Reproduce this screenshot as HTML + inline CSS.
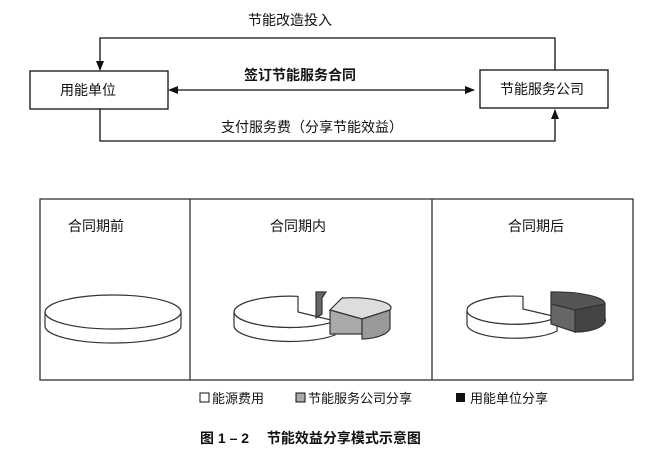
<!DOCTYPE html>
<html><head><meta charset="utf-8"><style>
body{margin:0;background:#fff;width:667px;height:457px;overflow:hidden}
text{font-family:"Liberation Sans","Noto Sans CJK SC",sans-serif;fill:#111}
</style></head><body>
<svg width="667" height="457" xmlns="http://www.w3.org/2000/svg">
<defs><marker id="a" markerWidth="10" markerHeight="8" refX="9" refY="4" orient="auto" markerUnits="userSpaceOnUse"><path d="M0,0 L10,4 L0,8 Z" fill="#111"/></marker></defs>
<g stroke="#111" stroke-width="1.3" fill="none">
<rect x="30" y="71" width="138" height="38" fill="#fff"/>
<rect x="480" y="70" width="128" height="38" fill="#fff"/>
<polyline points="555,70 555,38 100,38 100,70" marker-end="url(#a)"/>
<polyline points="100,109 100,141 555,141 555,110" marker-end="url(#a)"/>
<line x1="172" y1="90" x2="474" y2="90" marker-end="url(#a)"/>
</g>
<path d="M168,90 l10,-4 v8z" fill="#111"/>
<text x="248" y="25" font-size="14">节能改造投入</text>
<text x="60" y="95" font-size="14">用能单位</text>
<text x="500" y="94" font-size="14">节能服务公司</text>
<text x="244" y="80" font-size="14" font-weight="bold">签订节能服务合同</text>
<text x="221" y="132" font-size="14">支付服务费（分享节能效益）</text>
<g stroke="#333" stroke-width="1.3" fill="none">
<rect x="40" y="199" width="593" height="181"/>
<line x1="190" y1="199" x2="190" y2="380"/><line x1="432" y1="199" x2="432" y2="380"/>
</g>
<text x="68" y="231" font-size="14">合同期前</text>
<text x="270" y="231" font-size="14">合同期内</text>
<text x="508" y="231" font-size="14">合同期后</text>
<g stroke="#333" stroke-width="1.2">
<!-- pie1 -->
<path d="M45,312 v14 a68,17 0 0 0 136,0 v-14" fill="#fff"/>
<ellipse cx="113" cy="312" rx="68" ry="17" fill="#fff"/>
<!-- pie2 -->
<path d="M234,312 V326 A56,16 0 0 0 335,335 V321 A56,16 0 0 1 234,312Z" fill="#fff"/>
<path d="M298,296 V312 L335,321 A56,16 0 0 1 234,312 A56,16 0 0 1 298,296.3Z" fill="#fff"/>
<path d="M316,292 h10 l-4,6 v16 l-6,4z" fill="#666"/>
<path d="M330,310 l12,-12 a40,10 0 0 1 48,12 l-28,9z" fill="#ddd"/>
<path d="M330,310 v24 h32 v-15z" fill="#aaa"/>
<path d="M362,319 l28,-9 v16 a30,12 0 0 1 -28,13z" fill="#999"/>
<!-- pie3 -->
<path d="M467,310 V324 A48,14 0 0 0 557,331 V317 A48,14 0 0 1 467,310Z" fill="#fff"/>
<path d="M523,296 V309 L557,317 A48,14 0 0 1 467,310 A48,14 0 0 1 523,296.3Z" fill="#fff"/>
<path d="M551,292 a50,12 0 0 1 54,12 l-30,6 -24,-6z" fill="#555"/>
<path d="M551,304 l24,6 v22 l-24,-8z" fill="#666"/>
<path d="M575,310 l30,-6 v14 a30,12 0 0 1 -30,14z" fill="#444"/>
</g>
<rect x="200" y="393" width="9" height="9" fill="#fff" stroke="#111"/>
<text x="212" y="403" font-size="13">能源费用</text>
<rect x="296" y="393" width="9" height="9" fill="#aaa" stroke="#111"/>
<text x="308" y="403" font-size="13">节能服务公司分享</text>
<rect x="456" y="393" width="9" height="9" fill="#111"/>
<text x="470" y="403" font-size="13">用能单位分享</text>
<text x="200" y="443" font-size="14" font-weight="bold">图 1 – 2　 节能效益分享模式示意图</text>
</svg>
</body></html>
